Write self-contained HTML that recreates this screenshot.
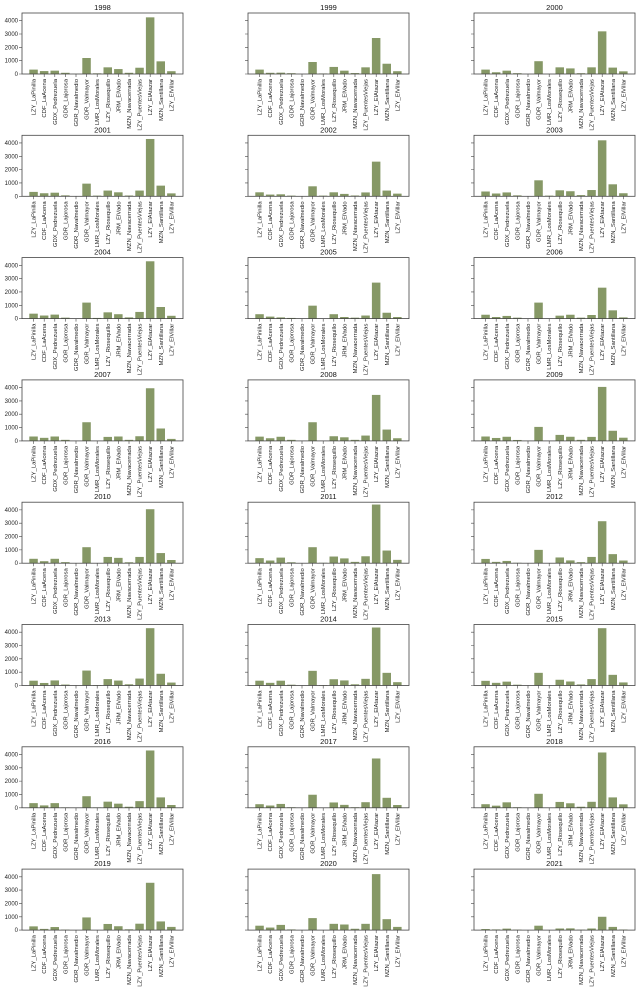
<!DOCTYPE html>
<html><head><meta charset="utf-8"><style>
body{margin:0;background:#fff}
svg{display:block;font-family:"Liberation Sans","DejaVu Sans",sans-serif}
.t{font-size:7.5px;text-anchor:middle;fill:#111}
.l text{font-size:5.9px;text-anchor:end;fill:#222}
.y{font-size:6px;text-anchor:end;fill:#222}
.f{fill:none;stroke:#444;stroke-width:0.8}
.k{stroke:#444;stroke-width:0.6;fill:none}
.b{fill:#869866}
</style></head><body>
<svg width="640" height="988" viewBox="0 0 640 988" xmlns="http://www.w3.org/2000/svg">

<g transform="translate(22,13)"><text class="t" x="80.5" y="-3">1998</text>
<g transform="translate(0,61) scale(1,-0.01333)" class="b"><rect x="7.3" width="8.5" height="330"/><rect x="17.9" width="8.5" height="220"/><rect x="28.5" width="8.5" height="250"/><rect x="39.1" width="8.5" height="90"/><rect x="49.7" width="8.5" height="10"/><rect x="60.3" width="8.5" height="1200"/><rect x="70.9" width="8.5" height="50"/><rect x="81.5" width="8.5" height="500"/><rect x="92.1" width="8.5" height="370"/><rect x="102.7" width="8.5" height="90"/><rect x="113.3" width="8.5" height="470"/><rect x="123.9" width="8.5" height="4250"/><rect x="134.5" width="8.5" height="950"/><rect x="145.1" width="8.5" height="210"/></g>
<rect class="f" width="161" height="61"/>
<path class="k" d="M11.6,61v3M22.2,61v3M32.8,61v3M43.4,61v3M54,61v3M64.6,61v3M75.2,61v3M85.8,61v3M96.4,61v3M107,61v3M117.6,61v3M128.2,61v3M138.8,61v3M149.4,61v3M0,61h-3M0,47.67h-3M0,34.33h-3M0,21h-3M0,7.67h-3"/>
<text class="y" x="-4" y="63">0</text><text class="y" x="-4" y="49.7">1000</text><text class="y" x="-4" y="36.3">2000</text><text class="y" x="-4" y="23">3000</text><text class="y" x="-4" y="9.7">4000</text>
<g class="l"><text transform="translate(13.6,66) rotate(-90)">LZY_LaPinilla</text><text transform="translate(24.2,66) rotate(-90)">CDF_LaAcena</text><text transform="translate(34.8,66) rotate(-90)">GDX_Pedrezuela</text><text transform="translate(45.4,66) rotate(-90)">GDR_Lajorosa</text><text transform="translate(56,66) rotate(-90)">GDR_Navalmedio</text><text transform="translate(66.6,66) rotate(-90)">GDR_Valmayor</text><text transform="translate(77.2,66) rotate(-90)">LMR_LosMorales</text><text transform="translate(87.8,66) rotate(-90)">LZY_Riosequillo</text><text transform="translate(98.4,66) rotate(-90)">JRM_ElVado</text><text transform="translate(109,66) rotate(-90)">MZN_Navacerrada</text><text transform="translate(119.6,66) rotate(-90)">LZY_PuentesViejas</text><text transform="translate(130.2,66) rotate(-90)">LZY_ElAtazar</text><text transform="translate(140.8,66) rotate(-90)">MZN_Santillana</text><text transform="translate(151.4,66) rotate(-90)">LZY_ElVillar</text></g></g>

<g transform="translate(248,13)"><text class="t" x="80.5" y="-3">1999</text>
<g transform="translate(0,61) scale(1,-0.01333)" class="b"><rect x="7.3" width="8.5" height="330"/><rect x="17.9" width="8.5" height="90"/><rect x="28.5" width="8.5" height="100"/><rect x="39.1" width="8.5" height="60"/><rect x="49.7" width="8.5" height="0"/><rect x="60.3" width="8.5" height="900"/><rect x="70.9" width="8.5" height="40"/><rect x="81.5" width="8.5" height="530"/><rect x="92.1" width="8.5" height="250"/><rect x="102.7" width="8.5" height="70"/><rect x="113.3" width="8.5" height="500"/><rect x="123.9" width="8.5" height="2700"/><rect x="134.5" width="8.5" height="770"/><rect x="145.1" width="8.5" height="210"/></g>
<rect class="f" width="161" height="61"/>
<path class="k" d="M11.6,61v3M22.2,61v3M32.8,61v3M43.4,61v3M54,61v3M64.6,61v3M75.2,61v3M85.8,61v3M96.4,61v3M107,61v3M117.6,61v3M128.2,61v3M138.8,61v3M149.4,61v3M0,61h-3M0,47.67h-3M0,34.33h-3M0,21h-3M0,7.67h-3"/>
<g class="l"><text transform="translate(13.6,66) rotate(-90)">LZY_LaPinilla</text><text transform="translate(24.2,66) rotate(-90)">CDF_LaAcena</text><text transform="translate(34.8,66) rotate(-90)">GDX_Pedrezuela</text><text transform="translate(45.4,66) rotate(-90)">GDR_Lajorosa</text><text transform="translate(56,66) rotate(-90)">GDR_Navalmedio</text><text transform="translate(66.6,66) rotate(-90)">GDR_Valmayor</text><text transform="translate(77.2,66) rotate(-90)">LMR_LosMorales</text><text transform="translate(87.8,66) rotate(-90)">LZY_Riosequillo</text><text transform="translate(98.4,66) rotate(-90)">JRM_ElVado</text><text transform="translate(109,66) rotate(-90)">MZN_Navacerrada</text><text transform="translate(119.6,66) rotate(-90)">LZY_PuentesViejas</text><text transform="translate(130.2,66) rotate(-90)">LZY_ElAtazar</text><text transform="translate(140.8,66) rotate(-90)">MZN_Santillana</text><text transform="translate(151.4,66) rotate(-90)">LZY_ElVillar</text></g></g>

<g transform="translate(474,13)"><text class="t" x="80.5" y="-3">2000</text>
<g transform="translate(0,61) scale(1,-0.01333)" class="b"><rect x="7.3" width="8.5" height="330"/><rect x="17.9" width="8.5" height="130"/><rect x="28.5" width="8.5" height="250"/><rect x="39.1" width="8.5" height="60"/><rect x="49.7" width="8.5" height="0"/><rect x="60.3" width="8.5" height="960"/><rect x="70.9" width="8.5" height="0"/><rect x="81.5" width="8.5" height="500"/><rect x="92.1" width="8.5" height="420"/><rect x="102.7" width="8.5" height="60"/><rect x="113.3" width="8.5" height="500"/><rect x="123.9" width="8.5" height="3200"/><rect x="134.5" width="8.5" height="480"/><rect x="145.1" width="8.5" height="200"/></g>
<rect class="f" width="161" height="61"/>
<path class="k" d="M11.6,61v3M22.2,61v3M32.8,61v3M43.4,61v3M54,61v3M64.6,61v3M75.2,61v3M85.8,61v3M96.4,61v3M107,61v3M117.6,61v3M128.2,61v3M138.8,61v3M149.4,61v3M0,61h-3M0,47.67h-3M0,34.33h-3M0,21h-3M0,7.67h-3"/>
<g class="l"><text transform="translate(13.6,66) rotate(-90)">LZY_LaPinilla</text><text transform="translate(24.2,66) rotate(-90)">CDF_LaAcena</text><text transform="translate(34.8,66) rotate(-90)">GDX_Pedrezuela</text><text transform="translate(45.4,66) rotate(-90)">GDR_Lajorosa</text><text transform="translate(56,66) rotate(-90)">GDR_Navalmedio</text><text transform="translate(66.6,66) rotate(-90)">GDR_Valmayor</text><text transform="translate(77.2,66) rotate(-90)">LMR_LosMorales</text><text transform="translate(87.8,66) rotate(-90)">LZY_Riosequillo</text><text transform="translate(98.4,66) rotate(-90)">JRM_ElVado</text><text transform="translate(109,66) rotate(-90)">MZN_Navacerrada</text><text transform="translate(119.6,66) rotate(-90)">LZY_PuentesViejas</text><text transform="translate(130.2,66) rotate(-90)">LZY_ElAtazar</text><text transform="translate(140.8,66) rotate(-90)">MZN_Santillana</text><text transform="translate(151.4,66) rotate(-90)">LZY_ElVillar</text></g></g>

<g transform="translate(22,135.3)"><text class="t" x="80.5" y="-3">2001</text>
<g transform="translate(0,61) scale(1,-0.01333)" class="b"><rect x="7.3" width="8.5" height="330"/><rect x="17.9" width="8.5" height="230"/><rect x="28.5" width="8.5" height="270"/><rect x="39.1" width="8.5" height="70"/><rect x="49.7" width="8.5" height="0"/><rect x="60.3" width="8.5" height="950"/><rect x="70.9" width="8.5" height="50"/><rect x="81.5" width="8.5" height="430"/><rect x="92.1" width="8.5" height="300"/><rect x="102.7" width="8.5" height="60"/><rect x="113.3" width="8.5" height="430"/><rect x="123.9" width="8.5" height="4300"/><rect x="134.5" width="8.5" height="800"/><rect x="145.1" width="8.5" height="220"/></g>
<rect class="f" width="161" height="61"/>
<path class="k" d="M11.6,61v3M22.2,61v3M32.8,61v3M43.4,61v3M54,61v3M64.6,61v3M75.2,61v3M85.8,61v3M96.4,61v3M107,61v3M117.6,61v3M128.2,61v3M138.8,61v3M149.4,61v3M0,61h-3M0,47.67h-3M0,34.33h-3M0,21h-3M0,7.67h-3"/>
<text class="y" x="-4" y="63">0</text><text class="y" x="-4" y="49.7">1000</text><text class="y" x="-4" y="36.3">2000</text><text class="y" x="-4" y="23">3000</text><text class="y" x="-4" y="9.7">4000</text>
<g class="l"><text transform="translate(13.6,66) rotate(-90)">LZY_LaPinilla</text><text transform="translate(24.2,66) rotate(-90)">CDF_LaAcena</text><text transform="translate(34.8,66) rotate(-90)">GDX_Pedrezuela</text><text transform="translate(45.4,66) rotate(-90)">GDR_Lajorosa</text><text transform="translate(56,66) rotate(-90)">GDR_Navalmedio</text><text transform="translate(66.6,66) rotate(-90)">GDR_Valmayor</text><text transform="translate(77.2,66) rotate(-90)">LMR_LosMorales</text><text transform="translate(87.8,66) rotate(-90)">LZY_Riosequillo</text><text transform="translate(98.4,66) rotate(-90)">JRM_ElVado</text><text transform="translate(109,66) rotate(-90)">MZN_Navacerrada</text><text transform="translate(119.6,66) rotate(-90)">LZY_PuentesViejas</text><text transform="translate(130.2,66) rotate(-90)">LZY_ElAtazar</text><text transform="translate(140.8,66) rotate(-90)">MZN_Santillana</text><text transform="translate(151.4,66) rotate(-90)">LZY_ElVillar</text></g></g>

<g transform="translate(248,135.3)"><text class="t" x="80.5" y="-3">2002</text>
<g transform="translate(0,61) scale(1,-0.01333)" class="b"><rect x="7.3" width="8.5" height="300"/><rect x="17.9" width="8.5" height="130"/><rect x="28.5" width="8.5" height="150"/><rect x="39.1" width="8.5" height="50"/><rect x="49.7" width="8.5" height="0"/><rect x="60.3" width="8.5" height="750"/><rect x="70.9" width="8.5" height="50"/><rect x="81.5" width="8.5" height="300"/><rect x="92.1" width="8.5" height="180"/><rect x="102.7" width="8.5" height="60"/><rect x="113.3" width="8.5" height="290"/><rect x="123.9" width="8.5" height="2600"/><rect x="134.5" width="8.5" height="430"/><rect x="145.1" width="8.5" height="200"/></g>
<rect class="f" width="161" height="61"/>
<path class="k" d="M11.6,61v3M22.2,61v3M32.8,61v3M43.4,61v3M54,61v3M64.6,61v3M75.2,61v3M85.8,61v3M96.4,61v3M107,61v3M117.6,61v3M128.2,61v3M138.8,61v3M149.4,61v3M0,61h-3M0,47.67h-3M0,34.33h-3M0,21h-3M0,7.67h-3"/>
<g class="l"><text transform="translate(13.6,66) rotate(-90)">LZY_LaPinilla</text><text transform="translate(24.2,66) rotate(-90)">CDF_LaAcena</text><text transform="translate(34.8,66) rotate(-90)">GDX_Pedrezuela</text><text transform="translate(45.4,66) rotate(-90)">GDR_Lajorosa</text><text transform="translate(56,66) rotate(-90)">GDR_Navalmedio</text><text transform="translate(66.6,66) rotate(-90)">GDR_Valmayor</text><text transform="translate(77.2,66) rotate(-90)">LMR_LosMorales</text><text transform="translate(87.8,66) rotate(-90)">LZY_Riosequillo</text><text transform="translate(98.4,66) rotate(-90)">JRM_ElVado</text><text transform="translate(109,66) rotate(-90)">MZN_Navacerrada</text><text transform="translate(119.6,66) rotate(-90)">LZY_PuentesViejas</text><text transform="translate(130.2,66) rotate(-90)">LZY_ElAtazar</text><text transform="translate(140.8,66) rotate(-90)">MZN_Santillana</text><text transform="translate(151.4,66) rotate(-90)">LZY_ElVillar</text></g></g>

<g transform="translate(474,135.3)"><text class="t" x="80.5" y="-3">2003</text>
<g transform="translate(0,61) scale(1,-0.01333)" class="b"><rect x="7.3" width="8.5" height="360"/><rect x="17.9" width="8.5" height="210"/><rect x="28.5" width="8.5" height="290"/><rect x="39.1" width="8.5" height="70"/><rect x="49.7" width="8.5" height="0"/><rect x="60.3" width="8.5" height="1200"/><rect x="70.9" width="8.5" height="50"/><rect x="81.5" width="8.5" height="450"/><rect x="92.1" width="8.5" height="380"/><rect x="102.7" width="8.5" height="90"/><rect x="113.3" width="8.5" height="470"/><rect x="123.9" width="8.5" height="4200"/><rect x="134.5" width="8.5" height="900"/><rect x="145.1" width="8.5" height="230"/></g>
<rect class="f" width="161" height="61"/>
<path class="k" d="M11.6,61v3M22.2,61v3M32.8,61v3M43.4,61v3M54,61v3M64.6,61v3M75.2,61v3M85.8,61v3M96.4,61v3M107,61v3M117.6,61v3M128.2,61v3M138.8,61v3M149.4,61v3M0,61h-3M0,47.67h-3M0,34.33h-3M0,21h-3M0,7.67h-3"/>
<g class="l"><text transform="translate(13.6,66) rotate(-90)">LZY_LaPinilla</text><text transform="translate(24.2,66) rotate(-90)">CDF_LaAcena</text><text transform="translate(34.8,66) rotate(-90)">GDX_Pedrezuela</text><text transform="translate(45.4,66) rotate(-90)">GDR_Lajorosa</text><text transform="translate(56,66) rotate(-90)">GDR_Navalmedio</text><text transform="translate(66.6,66) rotate(-90)">GDR_Valmayor</text><text transform="translate(77.2,66) rotate(-90)">LMR_LosMorales</text><text transform="translate(87.8,66) rotate(-90)">LZY_Riosequillo</text><text transform="translate(98.4,66) rotate(-90)">JRM_ElVado</text><text transform="translate(109,66) rotate(-90)">MZN_Navacerrada</text><text transform="translate(119.6,66) rotate(-90)">LZY_PuentesViejas</text><text transform="translate(130.2,66) rotate(-90)">LZY_ElAtazar</text><text transform="translate(140.8,66) rotate(-90)">MZN_Santillana</text><text transform="translate(151.4,66) rotate(-90)">LZY_ElVillar</text></g></g>

<g transform="translate(22,257.6)"><text class="t" x="80.5" y="-3">2004</text>
<g transform="translate(0,61) scale(1,-0.01333)" class="b"><rect x="7.3" width="8.5" height="370"/><rect x="17.9" width="8.5" height="230"/><rect x="28.5" width="8.5" height="300"/><rect x="39.1" width="8.5" height="70"/><rect x="49.7" width="8.5" height="0"/><rect x="60.3" width="8.5" height="1200"/><rect x="70.9" width="8.5" height="50"/><rect x="81.5" width="8.5" height="470"/><rect x="92.1" width="8.5" height="330"/><rect x="102.7" width="8.5" height="90"/><rect x="113.3" width="8.5" height="500"/><rect x="123.9" width="8.5" height="4300"/><rect x="134.5" width="8.5" height="870"/><rect x="145.1" width="8.5" height="210"/></g>
<rect class="f" width="161" height="61"/>
<path class="k" d="M11.6,61v3M22.2,61v3M32.8,61v3M43.4,61v3M54,61v3M64.6,61v3M75.2,61v3M85.8,61v3M96.4,61v3M107,61v3M117.6,61v3M128.2,61v3M138.8,61v3M149.4,61v3M0,61h-3M0,47.67h-3M0,34.33h-3M0,21h-3M0,7.67h-3"/>
<text class="y" x="-4" y="63">0</text><text class="y" x="-4" y="49.7">1000</text><text class="y" x="-4" y="36.3">2000</text><text class="y" x="-4" y="23">3000</text><text class="y" x="-4" y="9.7">4000</text>
<g class="l"><text transform="translate(13.6,66) rotate(-90)">LZY_LaPinilla</text><text transform="translate(24.2,66) rotate(-90)">CDF_LaAcena</text><text transform="translate(34.8,66) rotate(-90)">GDX_Pedrezuela</text><text transform="translate(45.4,66) rotate(-90)">GDR_Lajorosa</text><text transform="translate(56,66) rotate(-90)">GDR_Navalmedio</text><text transform="translate(66.6,66) rotate(-90)">GDR_Valmayor</text><text transform="translate(77.2,66) rotate(-90)">LMR_LosMorales</text><text transform="translate(87.8,66) rotate(-90)">LZY_Riosequillo</text><text transform="translate(98.4,66) rotate(-90)">JRM_ElVado</text><text transform="translate(109,66) rotate(-90)">MZN_Navacerrada</text><text transform="translate(119.6,66) rotate(-90)">LZY_PuentesViejas</text><text transform="translate(130.2,66) rotate(-90)">LZY_ElAtazar</text><text transform="translate(140.8,66) rotate(-90)">MZN_Santillana</text><text transform="translate(151.4,66) rotate(-90)">LZY_ElVillar</text></g></g>

<g transform="translate(248,257.6)"><text class="t" x="80.5" y="-3">2005</text>
<g transform="translate(0,61) scale(1,-0.01333)" class="b"><rect x="7.3" width="8.5" height="330"/><rect x="17.9" width="8.5" height="150"/><rect x="28.5" width="8.5" height="90"/><rect x="39.1" width="8.5" height="50"/><rect x="49.7" width="8.5" height="0"/><rect x="60.3" width="8.5" height="970"/><rect x="70.9" width="8.5" height="0"/><rect x="81.5" width="8.5" height="330"/><rect x="92.1" width="8.5" height="120"/><rect x="102.7" width="8.5" height="70"/><rect x="113.3" width="8.5" height="230"/><rect x="123.9" width="8.5" height="2700"/><rect x="134.5" width="8.5" height="440"/><rect x="145.1" width="8.5" height="120"/></g>
<rect class="f" width="161" height="61"/>
<path class="k" d="M11.6,61v3M22.2,61v3M32.8,61v3M43.4,61v3M54,61v3M64.6,61v3M75.2,61v3M85.8,61v3M96.4,61v3M107,61v3M117.6,61v3M128.2,61v3M138.8,61v3M149.4,61v3M0,61h-3M0,47.67h-3M0,34.33h-3M0,21h-3M0,7.67h-3"/>
<g class="l"><text transform="translate(13.6,66) rotate(-90)">LZY_LaPinilla</text><text transform="translate(24.2,66) rotate(-90)">CDF_LaAcena</text><text transform="translate(34.8,66) rotate(-90)">GDX_Pedrezuela</text><text transform="translate(45.4,66) rotate(-90)">GDR_Lajorosa</text><text transform="translate(56,66) rotate(-90)">GDR_Navalmedio</text><text transform="translate(66.6,66) rotate(-90)">GDR_Valmayor</text><text transform="translate(77.2,66) rotate(-90)">LMR_LosMorales</text><text transform="translate(87.8,66) rotate(-90)">LZY_Riosequillo</text><text transform="translate(98.4,66) rotate(-90)">JRM_ElVado</text><text transform="translate(109,66) rotate(-90)">MZN_Navacerrada</text><text transform="translate(119.6,66) rotate(-90)">LZY_PuentesViejas</text><text transform="translate(130.2,66) rotate(-90)">LZY_ElAtazar</text><text transform="translate(140.8,66) rotate(-90)">MZN_Santillana</text><text transform="translate(151.4,66) rotate(-90)">LZY_ElVillar</text></g></g>

<g transform="translate(474,257.6)"><text class="t" x="80.5" y="-3">2006</text>
<g transform="translate(0,61) scale(1,-0.01333)" class="b"><rect x="7.3" width="8.5" height="290"/><rect x="17.9" width="8.5" height="120"/><rect x="28.5" width="8.5" height="200"/><rect x="39.1" width="8.5" height="70"/><rect x="49.7" width="8.5" height="0"/><rect x="60.3" width="8.5" height="1200"/><rect x="70.9" width="8.5" height="0"/><rect x="81.5" width="8.5" height="220"/><rect x="92.1" width="8.5" height="290"/><rect x="102.7" width="8.5" height="70"/><rect x="113.3" width="8.5" height="270"/><rect x="123.9" width="8.5" height="2320"/><rect x="134.5" width="8.5" height="620"/><rect x="145.1" width="8.5" height="90"/></g>
<rect class="f" width="161" height="61"/>
<path class="k" d="M11.6,61v3M22.2,61v3M32.8,61v3M43.4,61v3M54,61v3M64.6,61v3M75.2,61v3M85.8,61v3M96.4,61v3M107,61v3M117.6,61v3M128.2,61v3M138.8,61v3M149.4,61v3M0,61h-3M0,47.67h-3M0,34.33h-3M0,21h-3M0,7.67h-3"/>
<g class="l"><text transform="translate(13.6,66) rotate(-90)">LZY_LaPinilla</text><text transform="translate(24.2,66) rotate(-90)">CDF_LaAcena</text><text transform="translate(34.8,66) rotate(-90)">GDX_Pedrezuela</text><text transform="translate(45.4,66) rotate(-90)">GDR_Lajorosa</text><text transform="translate(56,66) rotate(-90)">GDR_Navalmedio</text><text transform="translate(66.6,66) rotate(-90)">GDR_Valmayor</text><text transform="translate(77.2,66) rotate(-90)">LMR_LosMorales</text><text transform="translate(87.8,66) rotate(-90)">LZY_Riosequillo</text><text transform="translate(98.4,66) rotate(-90)">JRM_ElVado</text><text transform="translate(109,66) rotate(-90)">MZN_Navacerrada</text><text transform="translate(119.6,66) rotate(-90)">LZY_PuentesViejas</text><text transform="translate(130.2,66) rotate(-90)">LZY_ElAtazar</text><text transform="translate(140.8,66) rotate(-90)">MZN_Santillana</text><text transform="translate(151.4,66) rotate(-90)">LZY_ElVillar</text></g></g>

<g transform="translate(22,379.9)"><text class="t" x="80.5" y="-3">2007</text>
<g transform="translate(0,61) scale(1,-0.01333)" class="b"><rect x="7.3" width="8.5" height="330"/><rect x="17.9" width="8.5" height="230"/><rect x="28.5" width="8.5" height="330"/><rect x="39.1" width="8.5" height="80"/><rect x="49.7" width="8.5" height="0"/><rect x="60.3" width="8.5" height="1400"/><rect x="70.9" width="8.5" height="0"/><rect x="81.5" width="8.5" height="300"/><rect x="92.1" width="8.5" height="330"/><rect x="102.7" width="8.5" height="80"/><rect x="113.3" width="8.5" height="350"/><rect x="123.9" width="8.5" height="3950"/><rect x="134.5" width="8.5" height="930"/><rect x="145.1" width="8.5" height="150"/></g>
<rect class="f" width="161" height="61"/>
<path class="k" d="M11.6,61v3M22.2,61v3M32.8,61v3M43.4,61v3M54,61v3M64.6,61v3M75.2,61v3M85.8,61v3M96.4,61v3M107,61v3M117.6,61v3M128.2,61v3M138.8,61v3M149.4,61v3M0,61h-3M0,47.67h-3M0,34.33h-3M0,21h-3M0,7.67h-3"/>
<text class="y" x="-4" y="63">0</text><text class="y" x="-4" y="49.7">1000</text><text class="y" x="-4" y="36.3">2000</text><text class="y" x="-4" y="23">3000</text><text class="y" x="-4" y="9.7">4000</text>
<g class="l"><text transform="translate(13.6,66) rotate(-90)">LZY_LaPinilla</text><text transform="translate(24.2,66) rotate(-90)">CDF_LaAcena</text><text transform="translate(34.8,66) rotate(-90)">GDX_Pedrezuela</text><text transform="translate(45.4,66) rotate(-90)">GDR_Lajorosa</text><text transform="translate(56,66) rotate(-90)">GDR_Navalmedio</text><text transform="translate(66.6,66) rotate(-90)">GDR_Valmayor</text><text transform="translate(77.2,66) rotate(-90)">LMR_LosMorales</text><text transform="translate(87.8,66) rotate(-90)">LZY_Riosequillo</text><text transform="translate(98.4,66) rotate(-90)">JRM_ElVado</text><text transform="translate(109,66) rotate(-90)">MZN_Navacerrada</text><text transform="translate(119.6,66) rotate(-90)">LZY_PuentesViejas</text><text transform="translate(130.2,66) rotate(-90)">LZY_ElAtazar</text><text transform="translate(140.8,66) rotate(-90)">MZN_Santillana</text><text transform="translate(151.4,66) rotate(-90)">LZY_ElVillar</text></g></g>

<g transform="translate(248,379.9)"><text class="t" x="80.5" y="-3">2008</text>
<g transform="translate(0,61) scale(1,-0.01333)" class="b"><rect x="7.3" width="8.5" height="320"/><rect x="17.9" width="8.5" height="200"/><rect x="28.5" width="8.5" height="310"/><rect x="39.1" width="8.5" height="80"/><rect x="49.7" width="8.5" height="0"/><rect x="60.3" width="8.5" height="1400"/><rect x="70.9" width="8.5" height="0"/><rect x="81.5" width="8.5" height="350"/><rect x="92.1" width="8.5" height="270"/><rect x="102.7" width="8.5" height="80"/><rect x="113.3" width="8.5" height="400"/><rect x="123.9" width="8.5" height="3450"/><rect x="134.5" width="8.5" height="850"/><rect x="145.1" width="8.5" height="200"/></g>
<rect class="f" width="161" height="61"/>
<path class="k" d="M11.6,61v3M22.2,61v3M32.8,61v3M43.4,61v3M54,61v3M64.6,61v3M75.2,61v3M85.8,61v3M96.4,61v3M107,61v3M117.6,61v3M128.2,61v3M138.8,61v3M149.4,61v3M0,61h-3M0,47.67h-3M0,34.33h-3M0,21h-3M0,7.67h-3"/>
<g class="l"><text transform="translate(13.6,66) rotate(-90)">LZY_LaPinilla</text><text transform="translate(24.2,66) rotate(-90)">CDF_LaAcena</text><text transform="translate(34.8,66) rotate(-90)">GDX_Pedrezuela</text><text transform="translate(45.4,66) rotate(-90)">GDR_Lajorosa</text><text transform="translate(56,66) rotate(-90)">GDR_Navalmedio</text><text transform="translate(66.6,66) rotate(-90)">GDR_Valmayor</text><text transform="translate(77.2,66) rotate(-90)">LMR_LosMorales</text><text transform="translate(87.8,66) rotate(-90)">LZY_Riosequillo</text><text transform="translate(98.4,66) rotate(-90)">JRM_ElVado</text><text transform="translate(109,66) rotate(-90)">MZN_Navacerrada</text><text transform="translate(119.6,66) rotate(-90)">LZY_PuentesViejas</text><text transform="translate(130.2,66) rotate(-90)">LZY_ElAtazar</text><text transform="translate(140.8,66) rotate(-90)">MZN_Santillana</text><text transform="translate(151.4,66) rotate(-90)">LZY_ElVillar</text></g></g>

<g transform="translate(474,379.9)"><text class="t" x="80.5" y="-3">2009</text>
<g transform="translate(0,61) scale(1,-0.01333)" class="b"><rect x="7.3" width="8.5" height="330"/><rect x="17.9" width="8.5" height="220"/><rect x="28.5" width="8.5" height="310"/><rect x="39.1" width="8.5" height="70"/><rect x="49.7" width="8.5" height="0"/><rect x="60.3" width="8.5" height="1050"/><rect x="70.9" width="8.5" height="0"/><rect x="81.5" width="8.5" height="450"/><rect x="92.1" width="8.5" height="310"/><rect x="102.7" width="8.5" height="80"/><rect x="113.3" width="8.5" height="300"/><rect x="123.9" width="8.5" height="4050"/><rect x="134.5" width="8.5" height="760"/><rect x="145.1" width="8.5" height="240"/></g>
<rect class="f" width="161" height="61"/>
<path class="k" d="M11.6,61v3M22.2,61v3M32.8,61v3M43.4,61v3M54,61v3M64.6,61v3M75.2,61v3M85.8,61v3M96.4,61v3M107,61v3M117.6,61v3M128.2,61v3M138.8,61v3M149.4,61v3M0,61h-3M0,47.67h-3M0,34.33h-3M0,21h-3M0,7.67h-3"/>
<g class="l"><text transform="translate(13.6,66) rotate(-90)">LZY_LaPinilla</text><text transform="translate(24.2,66) rotate(-90)">CDF_LaAcena</text><text transform="translate(34.8,66) rotate(-90)">GDX_Pedrezuela</text><text transform="translate(45.4,66) rotate(-90)">GDR_Lajorosa</text><text transform="translate(56,66) rotate(-90)">GDR_Navalmedio</text><text transform="translate(66.6,66) rotate(-90)">GDR_Valmayor</text><text transform="translate(77.2,66) rotate(-90)">LMR_LosMorales</text><text transform="translate(87.8,66) rotate(-90)">LZY_Riosequillo</text><text transform="translate(98.4,66) rotate(-90)">JRM_ElVado</text><text transform="translate(109,66) rotate(-90)">MZN_Navacerrada</text><text transform="translate(119.6,66) rotate(-90)">LZY_PuentesViejas</text><text transform="translate(130.2,66) rotate(-90)">LZY_ElAtazar</text><text transform="translate(140.8,66) rotate(-90)">MZN_Santillana</text><text transform="translate(151.4,66) rotate(-90)">LZY_ElVillar</text></g></g>

<g transform="translate(22,502.2)"><text class="t" x="80.5" y="-3">2010</text>
<g transform="translate(0,61) scale(1,-0.01333)" class="b"><rect x="7.3" width="8.5" height="330"/><rect x="17.9" width="8.5" height="150"/><rect x="28.5" width="8.5" height="330"/><rect x="39.1" width="8.5" height="80"/><rect x="49.7" width="8.5" height="0"/><rect x="60.3" width="8.5" height="1200"/><rect x="70.9" width="8.5" height="0"/><rect x="81.5" width="8.5" height="470"/><rect x="92.1" width="8.5" height="400"/><rect x="102.7" width="8.5" height="70"/><rect x="113.3" width="8.5" height="470"/><rect x="123.9" width="8.5" height="4050"/><rect x="134.5" width="8.5" height="760"/><rect x="145.1" width="8.5" height="240"/></g>
<rect class="f" width="161" height="61"/>
<path class="k" d="M11.6,61v3M22.2,61v3M32.8,61v3M43.4,61v3M54,61v3M64.6,61v3M75.2,61v3M85.8,61v3M96.4,61v3M107,61v3M117.6,61v3M128.2,61v3M138.8,61v3M149.4,61v3M0,61h-3M0,47.67h-3M0,34.33h-3M0,21h-3M0,7.67h-3"/>
<text class="y" x="-4" y="63">0</text><text class="y" x="-4" y="49.7">1000</text><text class="y" x="-4" y="36.3">2000</text><text class="y" x="-4" y="23">3000</text><text class="y" x="-4" y="9.7">4000</text>
<g class="l"><text transform="translate(13.6,66) rotate(-90)">LZY_LaPinilla</text><text transform="translate(24.2,66) rotate(-90)">CDF_LaAcena</text><text transform="translate(34.8,66) rotate(-90)">GDX_Pedrezuela</text><text transform="translate(45.4,66) rotate(-90)">GDR_Lajorosa</text><text transform="translate(56,66) rotate(-90)">GDR_Navalmedio</text><text transform="translate(66.6,66) rotate(-90)">GDR_Valmayor</text><text transform="translate(77.2,66) rotate(-90)">LMR_LosMorales</text><text transform="translate(87.8,66) rotate(-90)">LZY_Riosequillo</text><text transform="translate(98.4,66) rotate(-90)">JRM_ElVado</text><text transform="translate(109,66) rotate(-90)">MZN_Navacerrada</text><text transform="translate(119.6,66) rotate(-90)">LZY_PuentesViejas</text><text transform="translate(130.2,66) rotate(-90)">LZY_ElAtazar</text><text transform="translate(140.8,66) rotate(-90)">MZN_Santillana</text><text transform="translate(151.4,66) rotate(-90)">LZY_ElVillar</text></g></g>

<g transform="translate(248,502.2)"><text class="t" x="80.5" y="-3">2011</text>
<g transform="translate(0,61) scale(1,-0.01333)" class="b"><rect x="7.3" width="8.5" height="380"/><rect x="17.9" width="8.5" height="200"/><rect x="28.5" width="8.5" height="420"/><rect x="39.1" width="8.5" height="70"/><rect x="49.7" width="8.5" height="0"/><rect x="60.3" width="8.5" height="1200"/><rect x="70.9" width="8.5" height="30"/><rect x="81.5" width="8.5" height="500"/><rect x="92.1" width="8.5" height="360"/><rect x="102.7" width="8.5" height="100"/><rect x="113.3" width="8.5" height="520"/><rect x="123.9" width="8.5" height="4400"/><rect x="134.5" width="8.5" height="950"/><rect x="145.1" width="8.5" height="250"/></g>
<rect class="f" width="161" height="61"/>
<path class="k" d="M11.6,61v3M22.2,61v3M32.8,61v3M43.4,61v3M54,61v3M64.6,61v3M75.2,61v3M85.8,61v3M96.4,61v3M107,61v3M117.6,61v3M128.2,61v3M138.8,61v3M149.4,61v3M0,61h-3M0,47.67h-3M0,34.33h-3M0,21h-3M0,7.67h-3"/>
<g class="l"><text transform="translate(13.6,66) rotate(-90)">LZY_LaPinilla</text><text transform="translate(24.2,66) rotate(-90)">CDF_LaAcena</text><text transform="translate(34.8,66) rotate(-90)">GDX_Pedrezuela</text><text transform="translate(45.4,66) rotate(-90)">GDR_Lajorosa</text><text transform="translate(56,66) rotate(-90)">GDR_Navalmedio</text><text transform="translate(66.6,66) rotate(-90)">GDR_Valmayor</text><text transform="translate(77.2,66) rotate(-90)">LMR_LosMorales</text><text transform="translate(87.8,66) rotate(-90)">LZY_Riosequillo</text><text transform="translate(98.4,66) rotate(-90)">JRM_ElVado</text><text transform="translate(109,66) rotate(-90)">MZN_Navacerrada</text><text transform="translate(119.6,66) rotate(-90)">LZY_PuentesViejas</text><text transform="translate(130.2,66) rotate(-90)">LZY_ElAtazar</text><text transform="translate(140.8,66) rotate(-90)">MZN_Santillana</text><text transform="translate(151.4,66) rotate(-90)">LZY_ElVillar</text></g></g>

<g transform="translate(474,502.2)"><text class="t" x="80.5" y="-3">2012</text>
<g transform="translate(0,61) scale(1,-0.01333)" class="b"><rect x="7.3" width="8.5" height="320"/><rect x="17.9" width="8.5" height="100"/><rect x="28.5" width="8.5" height="170"/><rect x="39.1" width="8.5" height="30"/><rect x="49.7" width="8.5" height="0"/><rect x="60.3" width="8.5" height="1000"/><rect x="70.9" width="8.5" height="0"/><rect x="81.5" width="8.5" height="430"/><rect x="92.1" width="8.5" height="210"/><rect x="102.7" width="8.5" height="80"/><rect x="113.3" width="8.5" height="470"/><rect x="123.9" width="8.5" height="3150"/><rect x="134.5" width="8.5" height="680"/><rect x="145.1" width="8.5" height="200"/></g>
<rect class="f" width="161" height="61"/>
<path class="k" d="M11.6,61v3M22.2,61v3M32.8,61v3M43.4,61v3M54,61v3M64.6,61v3M75.2,61v3M85.8,61v3M96.4,61v3M107,61v3M117.6,61v3M128.2,61v3M138.8,61v3M149.4,61v3M0,61h-3M0,47.67h-3M0,34.33h-3M0,21h-3M0,7.67h-3"/>
<g class="l"><text transform="translate(13.6,66) rotate(-90)">LZY_LaPinilla</text><text transform="translate(24.2,66) rotate(-90)">CDF_LaAcena</text><text transform="translate(34.8,66) rotate(-90)">GDX_Pedrezuela</text><text transform="translate(45.4,66) rotate(-90)">GDR_Lajorosa</text><text transform="translate(56,66) rotate(-90)">GDR_Navalmedio</text><text transform="translate(66.6,66) rotate(-90)">GDR_Valmayor</text><text transform="translate(77.2,66) rotate(-90)">LMR_LosMorales</text><text transform="translate(87.8,66) rotate(-90)">LZY_Riosequillo</text><text transform="translate(98.4,66) rotate(-90)">JRM_ElVado</text><text transform="translate(109,66) rotate(-90)">MZN_Navacerrada</text><text transform="translate(119.6,66) rotate(-90)">LZY_PuentesViejas</text><text transform="translate(130.2,66) rotate(-90)">LZY_ElAtazar</text><text transform="translate(140.8,66) rotate(-90)">MZN_Santillana</text><text transform="translate(151.4,66) rotate(-90)">LZY_ElVillar</text></g></g>

<g transform="translate(22,624.5)"><text class="t" x="80.5" y="-3">2013</text>
<g transform="translate(0,61) scale(1,-0.01333)" class="b"><rect x="7.3" width="8.5" height="360"/><rect x="17.9" width="8.5" height="190"/><rect x="28.5" width="8.5" height="380"/><rect x="39.1" width="8.5" height="70"/><rect x="49.7" width="8.5" height="0"/><rect x="60.3" width="8.5" height="1120"/><rect x="70.9" width="8.5" height="30"/><rect x="81.5" width="8.5" height="480"/><rect x="92.1" width="8.5" height="370"/><rect x="102.7" width="8.5" height="90"/><rect x="113.3" width="8.5" height="520"/><rect x="123.9" width="8.5" height="4300"/><rect x="134.5" width="8.5" height="880"/><rect x="145.1" width="8.5" height="220"/></g>
<rect class="f" width="161" height="61"/>
<path class="k" d="M11.6,61v3M22.2,61v3M32.8,61v3M43.4,61v3M54,61v3M64.6,61v3M75.2,61v3M85.8,61v3M96.4,61v3M107,61v3M117.6,61v3M128.2,61v3M138.8,61v3M149.4,61v3M0,61h-3M0,47.67h-3M0,34.33h-3M0,21h-3M0,7.67h-3"/>
<text class="y" x="-4" y="63">0</text><text class="y" x="-4" y="49.7">1000</text><text class="y" x="-4" y="36.3">2000</text><text class="y" x="-4" y="23">3000</text><text class="y" x="-4" y="9.7">4000</text>
<g class="l"><text transform="translate(13.6,66) rotate(-90)">LZY_LaPinilla</text><text transform="translate(24.2,66) rotate(-90)">CDF_LaAcena</text><text transform="translate(34.8,66) rotate(-90)">GDX_Pedrezuela</text><text transform="translate(45.4,66) rotate(-90)">GDR_Lajorosa</text><text transform="translate(56,66) rotate(-90)">GDR_Navalmedio</text><text transform="translate(66.6,66) rotate(-90)">GDR_Valmayor</text><text transform="translate(77.2,66) rotate(-90)">LMR_LosMorales</text><text transform="translate(87.8,66) rotate(-90)">LZY_Riosequillo</text><text transform="translate(98.4,66) rotate(-90)">JRM_ElVado</text><text transform="translate(109,66) rotate(-90)">MZN_Navacerrada</text><text transform="translate(119.6,66) rotate(-90)">LZY_PuentesViejas</text><text transform="translate(130.2,66) rotate(-90)">LZY_ElAtazar</text><text transform="translate(140.8,66) rotate(-90)">MZN_Santillana</text><text transform="translate(151.4,66) rotate(-90)">LZY_ElVillar</text></g></g>

<g transform="translate(248,624.5)"><text class="t" x="80.5" y="-3">2014</text>
<g transform="translate(0,61) scale(1,-0.01333)" class="b"><rect x="7.3" width="8.5" height="360"/><rect x="17.9" width="8.5" height="200"/><rect x="28.5" width="8.5" height="360"/><rect x="39.1" width="8.5" height="60"/><rect x="49.7" width="8.5" height="0"/><rect x="60.3" width="8.5" height="1100"/><rect x="70.9" width="8.5" height="30"/><rect x="81.5" width="8.5" height="470"/><rect x="92.1" width="8.5" height="380"/><rect x="102.7" width="8.5" height="90"/><rect x="113.3" width="8.5" height="500"/><rect x="123.9" width="8.5" height="4350"/><rect x="134.5" width="8.5" height="950"/><rect x="145.1" width="8.5" height="250"/></g>
<rect class="f" width="161" height="61"/>
<path class="k" d="M11.6,61v3M22.2,61v3M32.8,61v3M43.4,61v3M54,61v3M64.6,61v3M75.2,61v3M85.8,61v3M96.4,61v3M107,61v3M117.6,61v3M128.2,61v3M138.8,61v3M149.4,61v3M0,61h-3M0,47.67h-3M0,34.33h-3M0,21h-3M0,7.67h-3"/>
<g class="l"><text transform="translate(13.6,66) rotate(-90)">LZY_LaPinilla</text><text transform="translate(24.2,66) rotate(-90)">CDF_LaAcena</text><text transform="translate(34.8,66) rotate(-90)">GDX_Pedrezuela</text><text transform="translate(45.4,66) rotate(-90)">GDR_Lajorosa</text><text transform="translate(56,66) rotate(-90)">GDR_Navalmedio</text><text transform="translate(66.6,66) rotate(-90)">GDR_Valmayor</text><text transform="translate(77.2,66) rotate(-90)">LMR_LosMorales</text><text transform="translate(87.8,66) rotate(-90)">LZY_Riosequillo</text><text transform="translate(98.4,66) rotate(-90)">JRM_ElVado</text><text transform="translate(109,66) rotate(-90)">MZN_Navacerrada</text><text transform="translate(119.6,66) rotate(-90)">LZY_PuentesViejas</text><text transform="translate(130.2,66) rotate(-90)">LZY_ElAtazar</text><text transform="translate(140.8,66) rotate(-90)">MZN_Santillana</text><text transform="translate(151.4,66) rotate(-90)">LZY_ElVillar</text></g></g>

<g transform="translate(474,624.5)"><text class="t" x="80.5" y="-3">2015</text>
<g transform="translate(0,61) scale(1,-0.01333)" class="b"><rect x="7.3" width="8.5" height="350"/><rect x="17.9" width="8.5" height="200"/><rect x="28.5" width="8.5" height="290"/><rect x="39.1" width="8.5" height="60"/><rect x="49.7" width="8.5" height="0"/><rect x="60.3" width="8.5" height="950"/><rect x="70.9" width="8.5" height="0"/><rect x="81.5" width="8.5" height="430"/><rect x="92.1" width="8.5" height="300"/><rect x="102.7" width="8.5" height="80"/><rect x="113.3" width="8.5" height="480"/><rect x="123.9" width="8.5" height="4300"/><rect x="134.5" width="8.5" height="800"/><rect x="145.1" width="8.5" height="230"/></g>
<rect class="f" width="161" height="61"/>
<path class="k" d="M11.6,61v3M22.2,61v3M32.8,61v3M43.4,61v3M54,61v3M64.6,61v3M75.2,61v3M85.8,61v3M96.4,61v3M107,61v3M117.6,61v3M128.2,61v3M138.8,61v3M149.4,61v3M0,61h-3M0,47.67h-3M0,34.33h-3M0,21h-3M0,7.67h-3"/>
<g class="l"><text transform="translate(13.6,66) rotate(-90)">LZY_LaPinilla</text><text transform="translate(24.2,66) rotate(-90)">CDF_LaAcena</text><text transform="translate(34.8,66) rotate(-90)">GDX_Pedrezuela</text><text transform="translate(45.4,66) rotate(-90)">GDR_Lajorosa</text><text transform="translate(56,66) rotate(-90)">GDR_Navalmedio</text><text transform="translate(66.6,66) rotate(-90)">GDR_Valmayor</text><text transform="translate(77.2,66) rotate(-90)">LMR_LosMorales</text><text transform="translate(87.8,66) rotate(-90)">LZY_Riosequillo</text><text transform="translate(98.4,66) rotate(-90)">JRM_ElVado</text><text transform="translate(109,66) rotate(-90)">MZN_Navacerrada</text><text transform="translate(119.6,66) rotate(-90)">LZY_PuentesViejas</text><text transform="translate(130.2,66) rotate(-90)">LZY_ElAtazar</text><text transform="translate(140.8,66) rotate(-90)">MZN_Santillana</text><text transform="translate(151.4,66) rotate(-90)">LZY_ElVillar</text></g></g>

<g transform="translate(22,746.8)"><text class="t" x="80.5" y="-3">2016</text>
<g transform="translate(0,61) scale(1,-0.01333)" class="b"><rect x="7.3" width="8.5" height="350"/><rect x="17.9" width="8.5" height="180"/><rect x="28.5" width="8.5" height="350"/><rect x="39.1" width="8.5" height="30"/><rect x="49.7" width="8.5" height="0"/><rect x="60.3" width="8.5" height="870"/><rect x="70.9" width="8.5" height="30"/><rect x="81.5" width="8.5" height="460"/><rect x="92.1" width="8.5" height="310"/><rect x="102.7" width="8.5" height="80"/><rect x="113.3" width="8.5" height="500"/><rect x="123.9" width="8.5" height="4300"/><rect x="134.5" width="8.5" height="780"/><rect x="145.1" width="8.5" height="210"/></g>
<rect class="f" width="161" height="61"/>
<path class="k" d="M11.6,61v3M22.2,61v3M32.8,61v3M43.4,61v3M54,61v3M64.6,61v3M75.2,61v3M85.8,61v3M96.4,61v3M107,61v3M117.6,61v3M128.2,61v3M138.8,61v3M149.4,61v3M0,61h-3M0,47.67h-3M0,34.33h-3M0,21h-3M0,7.67h-3"/>
<text class="y" x="-4" y="63">0</text><text class="y" x="-4" y="49.7">1000</text><text class="y" x="-4" y="36.3">2000</text><text class="y" x="-4" y="23">3000</text><text class="y" x="-4" y="9.7">4000</text>
<g class="l"><text transform="translate(13.6,66) rotate(-90)">LZY_LaPinilla</text><text transform="translate(24.2,66) rotate(-90)">CDF_LaAcena</text><text transform="translate(34.8,66) rotate(-90)">GDX_Pedrezuela</text><text transform="translate(45.4,66) rotate(-90)">GDR_Lajorosa</text><text transform="translate(56,66) rotate(-90)">GDR_Navalmedio</text><text transform="translate(66.6,66) rotate(-90)">GDR_Valmayor</text><text transform="translate(77.2,66) rotate(-90)">LMR_LosMorales</text><text transform="translate(87.8,66) rotate(-90)">LZY_Riosequillo</text><text transform="translate(98.4,66) rotate(-90)">JRM_ElVado</text><text transform="translate(109,66) rotate(-90)">MZN_Navacerrada</text><text transform="translate(119.6,66) rotate(-90)">LZY_PuentesViejas</text><text transform="translate(130.2,66) rotate(-90)">LZY_ElAtazar</text><text transform="translate(140.8,66) rotate(-90)">MZN_Santillana</text><text transform="translate(151.4,66) rotate(-90)">LZY_ElVillar</text></g></g>

<g transform="translate(248,746.8)"><text class="t" x="80.5" y="-3">2017</text>
<g transform="translate(0,61) scale(1,-0.01333)" class="b"><rect x="7.3" width="8.5" height="270"/><rect x="17.9" width="8.5" height="170"/><rect x="28.5" width="8.5" height="290"/><rect x="39.1" width="8.5" height="40"/><rect x="49.7" width="8.5" height="0"/><rect x="60.3" width="8.5" height="980"/><rect x="70.9" width="8.5" height="0"/><rect x="81.5" width="8.5" height="400"/><rect x="92.1" width="8.5" height="220"/><rect x="102.7" width="8.5" height="40"/><rect x="113.3" width="8.5" height="420"/><rect x="123.9" width="8.5" height="3700"/><rect x="134.5" width="8.5" height="750"/><rect x="145.1" width="8.5" height="210"/></g>
<rect class="f" width="161" height="61"/>
<path class="k" d="M11.6,61v3M22.2,61v3M32.8,61v3M43.4,61v3M54,61v3M64.6,61v3M75.2,61v3M85.8,61v3M96.4,61v3M107,61v3M117.6,61v3M128.2,61v3M138.8,61v3M149.4,61v3M0,61h-3M0,47.67h-3M0,34.33h-3M0,21h-3M0,7.67h-3"/>
<g class="l"><text transform="translate(13.6,66) rotate(-90)">LZY_LaPinilla</text><text transform="translate(24.2,66) rotate(-90)">CDF_LaAcena</text><text transform="translate(34.8,66) rotate(-90)">GDX_Pedrezuela</text><text transform="translate(45.4,66) rotate(-90)">GDR_Lajorosa</text><text transform="translate(56,66) rotate(-90)">GDR_Navalmedio</text><text transform="translate(66.6,66) rotate(-90)">GDR_Valmayor</text><text transform="translate(77.2,66) rotate(-90)">LMR_LosMorales</text><text transform="translate(87.8,66) rotate(-90)">LZY_Riosequillo</text><text transform="translate(98.4,66) rotate(-90)">JRM_ElVado</text><text transform="translate(109,66) rotate(-90)">MZN_Navacerrada</text><text transform="translate(119.6,66) rotate(-90)">LZY_PuentesViejas</text><text transform="translate(130.2,66) rotate(-90)">LZY_ElAtazar</text><text transform="translate(140.8,66) rotate(-90)">MZN_Santillana</text><text transform="translate(151.4,66) rotate(-90)">LZY_ElVillar</text></g></g>

<g transform="translate(474,746.8)"><text class="t" x="80.5" y="-3">2018</text>
<g transform="translate(0,61) scale(1,-0.01333)" class="b"><rect x="7.3" width="8.5" height="270"/><rect x="17.9" width="8.5" height="160"/><rect x="28.5" width="8.5" height="410"/><rect x="39.1" width="8.5" height="40"/><rect x="49.7" width="8.5" height="0"/><rect x="60.3" width="8.5" height="1050"/><rect x="70.9" width="8.5" height="0"/><rect x="81.5" width="8.5" height="440"/><rect x="92.1" width="8.5" height="340"/><rect x="102.7" width="8.5" height="80"/><rect x="113.3" width="8.5" height="450"/><rect x="123.9" width="8.5" height="4150"/><rect x="134.5" width="8.5" height="780"/><rect x="145.1" width="8.5" height="260"/></g>
<rect class="f" width="161" height="61"/>
<path class="k" d="M11.6,61v3M22.2,61v3M32.8,61v3M43.4,61v3M54,61v3M64.6,61v3M75.2,61v3M85.8,61v3M96.4,61v3M107,61v3M117.6,61v3M128.2,61v3M138.8,61v3M149.4,61v3M0,61h-3M0,47.67h-3M0,34.33h-3M0,21h-3M0,7.67h-3"/>
<g class="l"><text transform="translate(13.6,66) rotate(-90)">LZY_LaPinilla</text><text transform="translate(24.2,66) rotate(-90)">CDF_LaAcena</text><text transform="translate(34.8,66) rotate(-90)">GDX_Pedrezuela</text><text transform="translate(45.4,66) rotate(-90)">GDR_Lajorosa</text><text transform="translate(56,66) rotate(-90)">GDR_Navalmedio</text><text transform="translate(66.6,66) rotate(-90)">GDR_Valmayor</text><text transform="translate(77.2,66) rotate(-90)">LMR_LosMorales</text><text transform="translate(87.8,66) rotate(-90)">LZY_Riosequillo</text><text transform="translate(98.4,66) rotate(-90)">JRM_ElVado</text><text transform="translate(109,66) rotate(-90)">MZN_Navacerrada</text><text transform="translate(119.6,66) rotate(-90)">LZY_PuentesViejas</text><text transform="translate(130.2,66) rotate(-90)">LZY_ElAtazar</text><text transform="translate(140.8,66) rotate(-90)">MZN_Santillana</text><text transform="translate(151.4,66) rotate(-90)">LZY_ElVillar</text></g></g>

<g transform="translate(22,869.1)"><text class="t" x="80.5" y="-3">2019</text>
<g transform="translate(0,61) scale(1,-0.01333)" class="b"><rect x="7.3" width="8.5" height="280"/><rect x="17.9" width="8.5" height="90"/><rect x="28.5" width="8.5" height="230"/><rect x="39.1" width="8.5" height="30"/><rect x="49.7" width="8.5" height="0"/><rect x="60.3" width="8.5" height="950"/><rect x="70.9" width="8.5" height="0"/><rect x="81.5" width="8.5" height="460"/><rect x="92.1" width="8.5" height="290"/><rect x="102.7" width="8.5" height="60"/><rect x="113.3" width="8.5" height="480"/><rect x="123.9" width="8.5" height="3550"/><rect x="134.5" width="8.5" height="650"/><rect x="145.1" width="8.5" height="240"/></g>
<rect class="f" width="161" height="61"/>
<path class="k" d="M11.6,61v3M22.2,61v3M32.8,61v3M43.4,61v3M54,61v3M64.6,61v3M75.2,61v3M85.8,61v3M96.4,61v3M107,61v3M117.6,61v3M128.2,61v3M138.8,61v3M149.4,61v3M0,61h-3M0,47.67h-3M0,34.33h-3M0,21h-3M0,7.67h-3"/>
<text class="y" x="-4" y="63">0</text><text class="y" x="-4" y="49.7">1000</text><text class="y" x="-4" y="36.3">2000</text><text class="y" x="-4" y="23">3000</text><text class="y" x="-4" y="9.7">4000</text>
<g class="l"><text transform="translate(13.6,66) rotate(-90)">LZY_LaPinilla</text><text transform="translate(24.2,66) rotate(-90)">CDF_LaAcena</text><text transform="translate(34.8,66) rotate(-90)">GDX_Pedrezuela</text><text transform="translate(45.4,66) rotate(-90)">GDR_Lajorosa</text><text transform="translate(56,66) rotate(-90)">GDR_Navalmedio</text><text transform="translate(66.6,66) rotate(-90)">GDR_Valmayor</text><text transform="translate(77.2,66) rotate(-90)">LMR_LosMorales</text><text transform="translate(87.8,66) rotate(-90)">LZY_Riosequillo</text><text transform="translate(98.4,66) rotate(-90)">JRM_ElVado</text><text transform="translate(109,66) rotate(-90)">MZN_Navacerrada</text><text transform="translate(119.6,66) rotate(-90)">LZY_PuentesViejas</text><text transform="translate(130.2,66) rotate(-90)">LZY_ElAtazar</text><text transform="translate(140.8,66) rotate(-90)">MZN_Santillana</text><text transform="translate(151.4,66) rotate(-90)">LZY_ElVillar</text></g></g>

<g transform="translate(248,869.1)"><text class="t" x="80.5" y="-3">2020</text>
<g transform="translate(0,61) scale(1,-0.01333)" class="b"><rect x="7.3" width="8.5" height="330"/><rect x="17.9" width="8.5" height="190"/><rect x="28.5" width="8.5" height="390"/><rect x="39.1" width="8.5" height="50"/><rect x="49.7" width="8.5" height="0"/><rect x="60.3" width="8.5" height="900"/><rect x="70.9" width="8.5" height="0"/><rect x="81.5" width="8.5" height="470"/><rect x="92.1" width="8.5" height="420"/><rect x="102.7" width="8.5" height="100"/><rect x="113.3" width="8.5" height="470"/><rect x="123.9" width="8.5" height="4200"/><rect x="134.5" width="8.5" height="820"/><rect x="145.1" width="8.5" height="240"/></g>
<rect class="f" width="161" height="61"/>
<path class="k" d="M11.6,61v3M22.2,61v3M32.8,61v3M43.4,61v3M54,61v3M64.6,61v3M75.2,61v3M85.8,61v3M96.4,61v3M107,61v3M117.6,61v3M128.2,61v3M138.8,61v3M149.4,61v3M0,61h-3M0,47.67h-3M0,34.33h-3M0,21h-3M0,7.67h-3"/>
<g class="l"><text transform="translate(13.6,66) rotate(-90)">LZY_LaPinilla</text><text transform="translate(24.2,66) rotate(-90)">CDF_LaAcena</text><text transform="translate(34.8,66) rotate(-90)">GDX_Pedrezuela</text><text transform="translate(45.4,66) rotate(-90)">GDR_Lajorosa</text><text transform="translate(56,66) rotate(-90)">GDR_Navalmedio</text><text transform="translate(66.6,66) rotate(-90)">GDR_Valmayor</text><text transform="translate(77.2,66) rotate(-90)">LMR_LosMorales</text><text transform="translate(87.8,66) rotate(-90)">LZY_Riosequillo</text><text transform="translate(98.4,66) rotate(-90)">JRM_ElVado</text><text transform="translate(109,66) rotate(-90)">MZN_Navacerrada</text><text transform="translate(119.6,66) rotate(-90)">LZY_PuentesViejas</text><text transform="translate(130.2,66) rotate(-90)">LZY_ElAtazar</text><text transform="translate(140.8,66) rotate(-90)">MZN_Santillana</text><text transform="translate(151.4,66) rotate(-90)">LZY_ElVillar</text></g></g>

<g transform="translate(474,869.1)"><text class="t" x="80.5" y="-3">2021</text>
<g transform="translate(0,61) scale(1,-0.01333)" class="b"><rect x="7.3" width="8.5" height="80"/><rect x="17.9" width="8.5" height="50"/><rect x="28.5" width="8.5" height="110"/><rect x="39.1" width="8.5" height="30"/><rect x="49.7" width="8.5" height="0"/><rect x="60.3" width="8.5" height="330"/><rect x="70.9" width="8.5" height="0"/><rect x="81.5" width="8.5" height="120"/><rect x="92.1" width="8.5" height="130"/><rect x="102.7" width="8.5" height="30"/><rect x="113.3" width="8.5" height="120"/><rect x="123.9" width="8.5" height="1000"/><rect x="134.5" width="8.5" height="240"/><rect x="145.1" width="8.5" height="40"/></g>
<rect class="f" width="161" height="61"/>
<path class="k" d="M11.6,61v3M22.2,61v3M32.8,61v3M43.4,61v3M54,61v3M64.6,61v3M75.2,61v3M85.8,61v3M96.4,61v3M107,61v3M117.6,61v3M128.2,61v3M138.8,61v3M149.4,61v3M0,61h-3M0,47.67h-3M0,34.33h-3M0,21h-3M0,7.67h-3"/>
<g class="l"><text transform="translate(13.6,66) rotate(-90)">LZY_LaPinilla</text><text transform="translate(24.2,66) rotate(-90)">CDF_LaAcena</text><text transform="translate(34.8,66) rotate(-90)">GDX_Pedrezuela</text><text transform="translate(45.4,66) rotate(-90)">GDR_Lajorosa</text><text transform="translate(56,66) rotate(-90)">GDR_Navalmedio</text><text transform="translate(66.6,66) rotate(-90)">GDR_Valmayor</text><text transform="translate(77.2,66) rotate(-90)">LMR_LosMorales</text><text transform="translate(87.8,66) rotate(-90)">LZY_Riosequillo</text><text transform="translate(98.4,66) rotate(-90)">JRM_ElVado</text><text transform="translate(109,66) rotate(-90)">MZN_Navacerrada</text><text transform="translate(119.6,66) rotate(-90)">LZY_PuentesViejas</text><text transform="translate(130.2,66) rotate(-90)">LZY_ElAtazar</text><text transform="translate(140.8,66) rotate(-90)">MZN_Santillana</text><text transform="translate(151.4,66) rotate(-90)">LZY_ElVillar</text></g></g>

</svg>
</body></html>
